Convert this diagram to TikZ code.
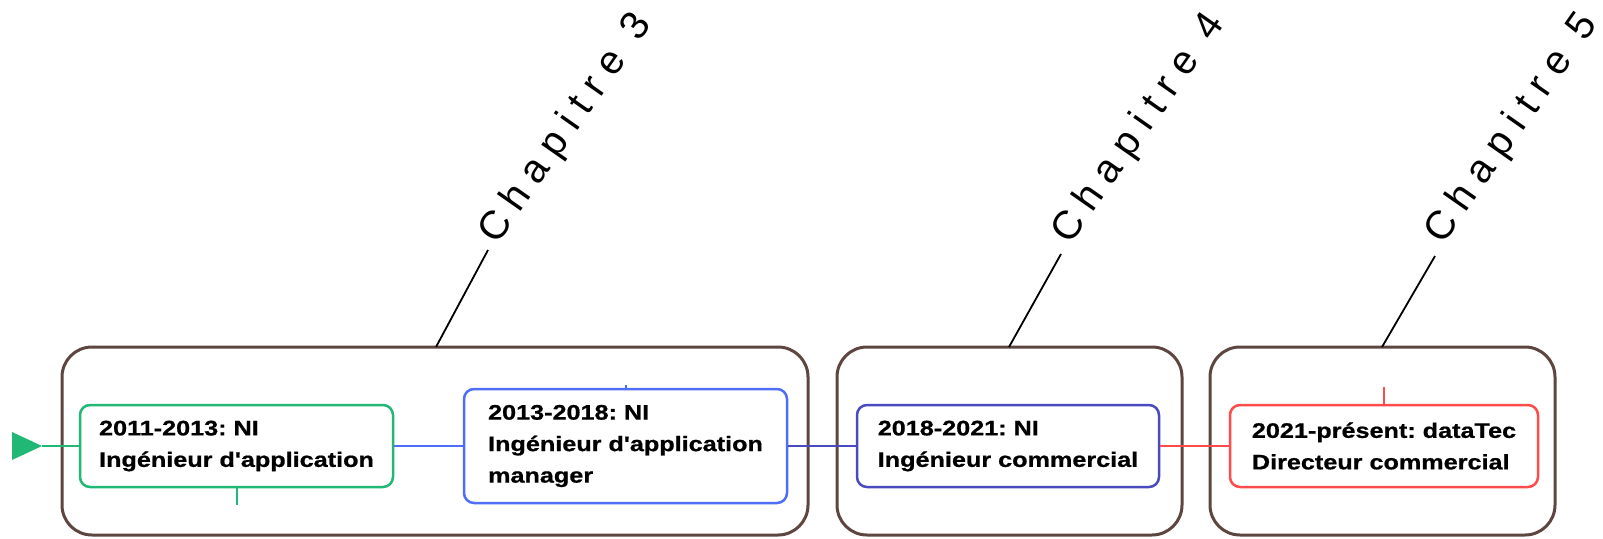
\documentclass[tikz,border=0pt]{standalone}
\usepackage{fontspec}
\setmainfont{Liberation Sans}
\newfontfamily\boxfont[FakeStretch=1.2,BoldFeatures={FakeBold=0.8}]{Liberation Sans}
\newfontfamily\chapfont[LetterSpace=27]{Liberation Sans}
\definecolor{brownc}{HTML}{5D4540}
\definecolor{greenc}{HTML}{20B874}
\definecolor{bluec}{HTML}{4F6EF7}
\definecolor{purplec}{HTML}{4A4AC0}
\definecolor{redc}{HTML}{FF4B4B}
\frenchspacing
\begin{document}
\begin{tikzpicture}[x=1pt,y=1pt,
  chapbox/.style={draw=brownc,line width=3pt,rounded corners=30pt,fill=none},
  jobbox/.style={line width=2.5pt,rounded corners=10pt,fill=white,align=left,inner sep=0pt,
     font=\boxfont\bfseries\fontsize{21pt}{31.5pt}\selectfont},
  link/.style={line width=2.8pt},
  leader/.style={draw=black,line width=1.8pt},
  chaplabel/.style={anchor=base west,rotate=55,inner sep=0pt,font=\chapfont\fontsize{40pt}{44pt}\selectfont}]
\useasboundingbox (0,0) rectangle (1603,-538);
% chapter frames
\draw[chapbox] (62,-347) rectangle (808,-535);
\draw[chapbox] (837,-347) rectangle (1182,-535);
\draw[chapbox] (1210,-347) rectangle (1555,-535);
\coordinate (f1) at (436,-347);
\coordinate (f2) at (1009,-347);
\coordinate (f3) at (1382,-347);
% job boxes
\node[jobbox,draw=greenc,minimum width=313pt,minimum height=82pt] (j1) at (236.5,-446) {2011-2013: NI\\Ingénieur d'application};
\node[jobbox,draw=bluec,minimum width=323pt,minimum height=114pt] (j2) at (625.5,-446) {2013-2018: NI\\Ingénieur d'application\\manager};
\node[jobbox,draw=purplec,minimum width=302pt,minimum height=82pt] (j3) at (1008,-446) {2018-2021: NI\\Ingénieur commercial};
\node[jobbox,draw=redc,minimum width=308pt,minimum height=82pt] (j4) at (1384,-446) {2021-présent: dataTec\\Directeur commercial};
% start arrow
\coordinate (s) at (42,-446);
\fill[greenc] (12,-432) -- (12,-460) -- (s) -- cycle;
\draw[link,greenc] (s) -- (j1.west);
\draw[link,bluec] (j1.east) -- (j2.west);
\draw[link,purplec] (j2.east) -- (j3.west);
\draw[link,redc] (j3.east) -- (j4.west);
% ticks
\coordinate (k1) at (237,-505);
\draw[link,greenc] (j1.south -| k1) -- (k1);
\coordinate (k2) at (626,-385);
\draw[link,bluec] (j2.north -| k2) -- (k2);
\coordinate (k4) at (1384,-387);
\draw[link,redc] (j4.north -| k4) -- (k4);
% chapter labels
\node[chaplabel] (c3) at (497,-246) {Chapitre 3};
\node[chaplabel] (c4) at (1070,-246) {Chapitre 4};
\node[chaplabel] (c5) at (1443,-246) {Chapitre 5};
\coordinate (t3) at (488,-250);
\coordinate (t4) at (1061,-254);
\coordinate (t5) at (1435,-256);
\draw[leader] (f1) -- (t3);
\draw[leader] (f2) -- (t4);
\draw[leader] (f3) -- (t5);
\end{tikzpicture}
\end{document}
